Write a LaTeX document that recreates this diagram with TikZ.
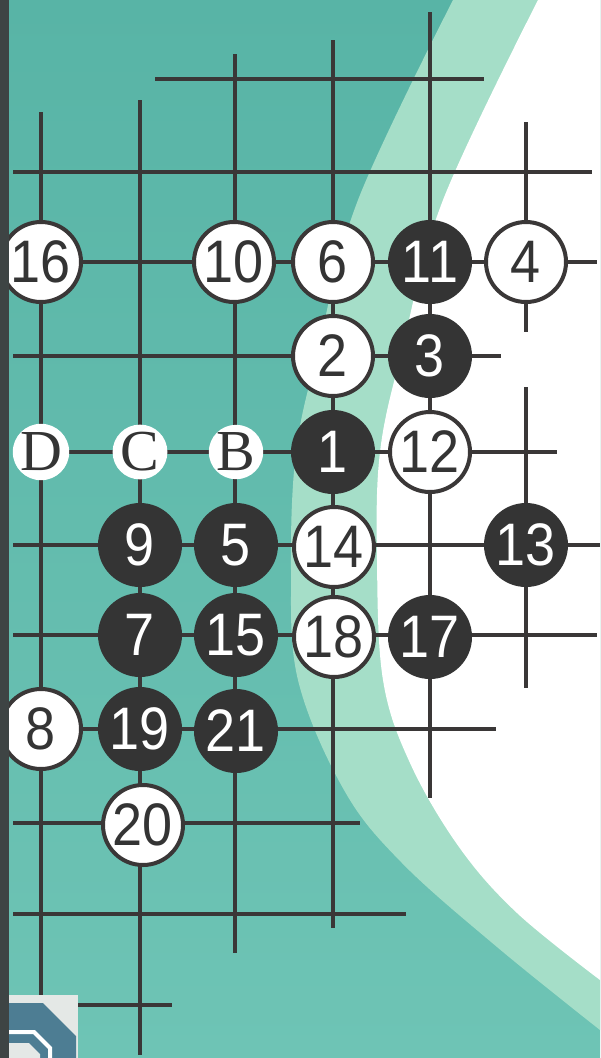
\documentclass[tikz,border=0pt]{standalone}
\usepackage{fontspec}
\newfontfamily\numfont[FakeStretch=0.9]{Liberation Sans}
\newfontfamily\letfont{Liberation Serif}
\definecolor{tealA}{RGB}{88,180,166}
\definecolor{tealB}{RGB}{110,196,181}
\definecolor{mint}{RGB}{165,222,200}
\definecolor{linec}{RGB}{58,55,55}
\definecolor{stonec}{RGB}{52,52,52}
\definecolor{barc}{RGB}{62,68,68}
\definecolor{logob}{RGB}{77,125,147}
\definecolor{logow}{RGB}{228,232,230}
\tikzset{
  gl/.style={line width=4pt, draw=linec},
  wst/.style={circle, draw=linec, line width=4pt, fill=white, minimum size=80pt, inner sep=0pt,
    text=stonec, font=\numfont\fontsize{60}{60}\selectfont},
  bst/.style={circle, draw=stonec, line width=4pt, fill=stonec, minimum size=80pt, inner sep=0pt,
    text=white, font=\numfont\fontsize{60}{60}\selectfont},
  lst/.style={circle, fill=white, minimum size=54pt, inner sep=0pt,
    text=stonec, font=\letfont\fontsize{58}{58}\selectfont}
}
\begin{document}
\begin{tikzpicture}[x=1pt,y=-1pt]
\useasboundingbox (0,0) rectangle (600,1058);
% background
\fill[top color=tealA,bottom color=tealB] (0,0) rectangle (600,1058);
\fill[mint] plot[smooth,tension=0.6] coordinates {(453,0) (358,200) (318,350) (296,452) (291,570) (298,680) (344,790) (402,863) (497,947) (600,1030)} -- (600,0) -- cycle;
\fill[white] plot[smooth,tension=0.6] coordinates {(538,0) (443,200) (402,350) (380,452) (377,560) (383,680) (410,763) (459,847) (517,913) (600,980)} -- (600,0) -- cycle;
% grid lines
\draw[gl] (155,79) -- (484,79);
\draw[gl] (13,172) -- (592,172);
\draw[gl] (13,262) -- (597,262);
\draw[gl] (13,356) -- (501,356);
\draw[gl] (41,452) -- (557,452);
\draw[gl] (13,545) -- (600,545);
\draw[gl] (13,635) -- (597,635);
\draw[gl] (41,729) -- (496,729);
\draw[gl] (13,823) -- (360,823);
\draw[gl] (13,914) -- (406,914);
\draw[gl] (13,1005) -- (172,1005);
\draw[gl] (41,112) -- (41,1000);
\draw[gl] (140,100) -- (140,1055);
\draw[gl] (235,54) -- (235,953);
\draw[gl] (333,40) -- (333,928);
\draw[gl] (430,12) -- (430,798);
\draw[gl] (526,122) -- (526,332);
\draw[gl] (526,387) -- (526,688);
% stones
\node[wst] (s16) at (41,262) {16};
\node[wst] (s10) at (234,262) {10};
\node[wst] (s6) at (333,262) {6};
\node[bst] (s11) at (430,262) {11};
\node[wst] (s4) at (526,262) {4};
\node[wst] (s2) at (333,356) {2};
\node[bst] (s3) at (430,356) {3};
\node[lst] (lD) at (41,452) {D};
\node[lst] (lC) at (140,452) {C};
\node[lst] (lB) at (236,452) {B};
\node[bst] (s1) at (333,452) {1};
\node[wst] (s12) at (430,452) {12};
\node[bst] (s9) at (140,545) {9};
\node[bst] (s5) at (236,545) {5};
\node[wst] (s14) at (334,547) {14};
\node[bst] (s13) at (526,545) {13};
\node[bst] (s7) at (140,635) {7};
\node[bst] (s15) at (236,635) {15};
\node[wst] (s18) at (334,637) {18};
\node[bst] (s17) at (430,637) {17};
\node[wst] (s8) at (41,729) {8};
\node[bst] (s19) at (140,729) {19};
\node[bst] (s21) at (236,731) {21};
\node[wst] (s20) at (143,825) {20};
% logo
\fill[logow] (7,995) rectangle (78,1058);
\fill[logob] (7,1003) -- (43,1003) -- (76,1036) -- (76,1058) -- (7,1058) -- cycle;
\draw[white, line width=4pt] (7,1032) -- (34,1032) -- (50,1048) -- (50,1058);
\fill[logow] (7,1043) -- (29,1043) -- (40,1054) -- (40,1058) -- (7,1058) -- cycle;
% left bar
\fill[barc] (0,0) rectangle (9,1058);
\end{tikzpicture}
\end{document}
